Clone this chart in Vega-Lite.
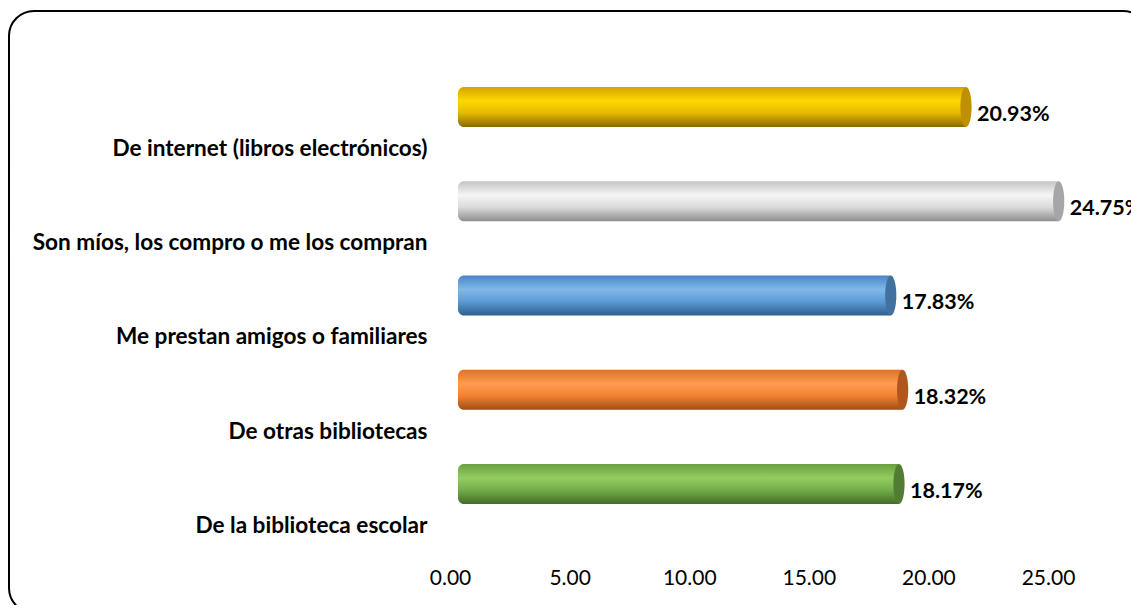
{
  "$schema": "https://vega.github.io/schema/vega-lite/v6.json",
  "width": 1139,
  "height": 602,
  "autosize": {"type": "none"},
  "padding": {"left": 9, "top": 11, "right": 0, "bottom": 0},
  "background": "white",
  "config": {
    "view": {"stroke": "#000000", "strokeWidth": 2, "cornerRadius": 25},
    "font": "Lato"
  },
  "data": {
    "values": [
      {"cat": "De internet (libros electrónicos)", "pct": 20.93},
      {"cat": "Son míos, los compro o me los compran", "pct": 24.75},
      {"cat": "Me prestan amigos o familiares", "pct": 17.83},
      {"cat": "De otras bibliotecas", "pct": 18.32},
      {"cat": "De la biblioteca escolar", "pct": 18.17}
    ]
  },
  "encoding": {
    "y": {
      "field": "cat",
      "type": "nominal",
      "sort": ["De internet (libros electrónicos)", "Son míos, los compro o me los compran", "Me prestan amigos o familiares", "De otras bibliotecas", "De la biblioteca escolar"],
      "scale": {"type": "band", "paddingInner": 0.576, "paddingOuter": 0.9817, "align": 0.4107},
      "axis": {
        "title": null, "domain": false, "ticks": false, "grid": false,
        "labelFont": "Lato", "labelFontWeight": "bold", "labelFontSize": 22.6,
        "labelColor": "#000000", "labelLimit": 1000, "labelPadding": 0,
        "offset": -418, "labelOffset": 42, "labelAlign": "right", "labelBaseline": "middle"
      }
    }
  },
  "layer": [
    {
      "mark": {"type": "point", "opacity": 0},
      "encoding": {
        "x": {
          "field": "pct", "type": "quantitative",
          "scale": {"domain": [-18.44, 29.18], "nice": false, "zero": false},
          "axis": {
            "title": null, "values": [0, 5, 10, 15, 20, 25], "format": ".2f",
            "domain": false, "ticks": false, "grid": false,
            "labelFont": "Lato", "labelFontSize": 21, "labelColor": "#000000",
            "labelPadding": 0, "offset": -29, "labelBaseline": "alphabetic", "labelFlush": false
          }
        }
      }
    },
    {
      "transform": [{"filter": "datum.cat === 'De internet (libros electrónicos)'"}],
      "mark": {"type": "bar", "cornerRadiusTopLeft": 6, "cornerRadiusBottomLeft": 6,
        "fill": {"gradient": "linear", "x1": 0, "y1": 0, "x2": 0, "y2": 1,
          "stops": [{"offset": 0, "color": "#D4A400"}, {"offset": 0.35, "color": "#FFD800"}, {"offset": 0.65, "color": "#E6B800"}, {"offset": 1, "color": "#8A6A00"}]}},
      "encoding": {
        "x": {"field": "pct", "type": "quantitative", "scale": {"domain": [-18.5, 28.43], "nice": false, "zero": false}, "axis": null},
        "x2": {"datum": 0}
      }
    },
    {
      "transform": [{"filter": "datum.cat === 'Son míos, los compro o me los compran'"}],
      "mark": {"type": "bar", "cornerRadiusTopLeft": 6, "cornerRadiusBottomLeft": 6,
        "fill": {"gradient": "linear", "x1": 0, "y1": 0, "x2": 0, "y2": 1,
          "stops": [{"offset": 0, "color": "#C4C4C4"}, {"offset": 0.35, "color": "#F5F5F5"}, {"offset": 0.65, "color": "#DADADA"}, {"offset": 1, "color": "#8E8E8E"}]}},
      "encoding": {
        "x": {"field": "pct", "type": "quantitative", "scale": {"domain": [-18.5, 28.43], "nice": false, "zero": false}, "axis": null},
        "x2": {"datum": 0}
      }
    },
    {
      "transform": [{"filter": "datum.cat === 'Me prestan amigos o familiares'"}],
      "mark": {"type": "bar", "cornerRadiusTopLeft": 6, "cornerRadiusBottomLeft": 6,
        "fill": {"gradient": "linear", "x1": 0, "y1": 0, "x2": 0, "y2": 1,
          "stops": [{"offset": 0, "color": "#4A86C6"}, {"offset": 0.35, "color": "#80B8EC"}, {"offset": 0.65, "color": "#5B9BD5"}, {"offset": 1, "color": "#2E5F8F"}]}},
      "encoding": {
        "x": {"field": "pct", "type": "quantitative", "scale": {"domain": [-18.5, 28.43], "nice": false, "zero": false}, "axis": null},
        "x2": {"datum": 0}
      }
    },
    {
      "transform": [{"filter": "datum.cat === 'De otras bibliotecas'"}],
      "mark": {"type": "bar", "cornerRadiusTopLeft": 6, "cornerRadiusBottomLeft": 6,
        "fill": {"gradient": "linear", "x1": 0, "y1": 0, "x2": 0, "y2": 1,
          "stops": [{"offset": 0, "color": "#E07022"}, {"offset": 0.35, "color": "#FF9C52"}, {"offset": 0.65, "color": "#F28232"}, {"offset": 1, "color": "#A04E12"}]}},
      "encoding": {
        "x": {"field": "pct", "type": "quantitative", "scale": {"domain": [-18.5, 28.43], "nice": false, "zero": false}, "axis": null},
        "x2": {"datum": 0}
      }
    },
    {
      "transform": [{"filter": "datum.cat === 'De la biblioteca escolar'"}],
      "mark": {"type": "bar", "cornerRadiusTopLeft": 6, "cornerRadiusBottomLeft": 6,
        "fill": {"gradient": "linear", "x1": 0, "y1": 0, "x2": 0, "y2": 1,
          "stops": [{"offset": 0, "color": "#6AA040"}, {"offset": 0.35, "color": "#92CD60"}, {"offset": 0.65, "color": "#72AE48"}, {"offset": 1, "color": "#456B2A"}]}},
      "encoding": {
        "x": {"field": "pct", "type": "quantitative", "scale": {"domain": [-18.5, 28.43], "nice": false, "zero": false}, "axis": null},
        "x2": {"datum": 0}
      }
    },
    {
      "mark": {"type": "point", "filled": true, "opacity": 1, "size": 1600,
        "shape": "M0,-1 A0.28,1 0 1,1 0,1 A0.28,1 0 1,1 0,-1 Z"},
      "encoding": {
        "x": {"field": "pct", "type": "quantitative", "scale": {"domain": [-18.5, 28.43], "nice": false, "zero": false}, "axis": null},
        "color": {
          "field": "cat", "type": "nominal", "legend": null,
          "scale": {
            "domain": ["De internet (libros electrónicos)", "Son míos, los compro o me los compran", "Me prestan amigos o familiares", "De otras bibliotecas", "De la biblioteca escolar"],
            "range": ["#BF9000", "#A6A6A6", "#41729F", "#B0561E", "#507D32"]
          }
        }
      }
    },
    {
      "transform": [{"calculate": "format(datum.pct, '.2f') + '%'", "as": "label"}],
      "mark": {"type": "text", "align": "left", "baseline": "middle", "dx": 11, "dy": 8,
        "font": "Lato", "fontWeight": "bold", "fontSize": 21.5, "color": "#000000"},
      "encoding": {
        "x": {"field": "pct", "type": "quantitative", "scale": {"domain": [-18.5, 28.43], "nice": false, "zero": false}, "axis": null},
        "text": {"field": "label", "type": "nominal"}
      }
    }
  ],
  "resolve": {"scale": {"x": "independent", "color": "independent"}, "axis": {"x": "independent"}}
}
